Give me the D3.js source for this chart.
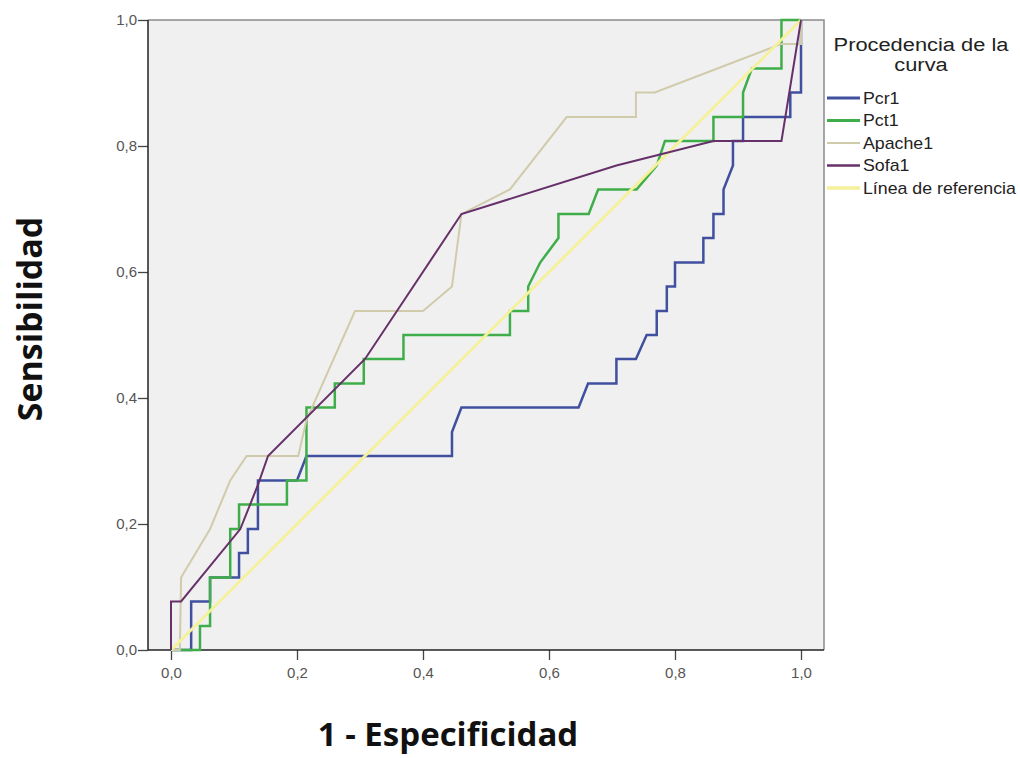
<!DOCTYPE html>
<html>
<head>
<meta charset="utf-8">
<script src="https://cdn.jsdelivr.net/npm/d3@7"></script>
<style>
  body { margin: 0; background: #fff; }
  svg { display: block; font-family: "Liberation Sans", Arial, sans-serif; }
</style>
</head>
<body>
<svg id="rocChart" width="1020" height="758"></svg>
<script>
// Tick values for both axes
var xTicks = [0, 0.2, 0.4, 0.6, 0.8, 1.0];
var yTicks = [0, 0.2, 0.4, 0.6, 0.8, 1.0];

// Legend labels (in drawing order of the legend)
var seriesNames = ["Pcr1", "Pct1", "Apache1", "Sofa1", "Línea de referencia"];

// ROC points as [1 - especificidad, sensibilidad]
var pcr1 = [[0,0],[0.032,0],[0.032,0.077],[0.062,0.077],[0.062,0.115],[0.108,0.115],[0.108,0.154],
  [0.122,0.154],[0.122,0.192],[0.138,0.192],[0.138,0.269],[0.2,0.269],[0.215,0.308],[0.446,0.308],
  [0.446,0.346],[0.461,0.385],[0.647,0.385],[0.662,0.423],[0.707,0.423],[0.707,0.462],[0.738,0.462],
  [0.755,0.5],[0.771,0.5],[0.771,0.538],[0.787,0.538],[0.787,0.577],[0.8,0.577],[0.8,0.615],
  [0.845,0.615],[0.845,0.654],[0.861,0.654],[0.861,0.692],[0.877,0.692],[0.877,0.731],[0.892,0.769],
  [0.892,0.808],[0.908,0.808],[0.908,0.846],[0.983,0.846],[0.983,0.885],[1,0.885],[1,0.962],[1,1]];

var pct1 = [[0,0],[0.046,0],[0.046,0.038],[0.062,0.038],[0.062,0.115],[0.094,0.115],[0.094,0.192],
  [0.108,0.192],[0.108,0.231],[0.184,0.231],[0.184,0.269],[0.215,0.269],[0.215,0.385],[0.26,0.385],
  [0.26,0.423],[0.306,0.423],[0.306,0.462],[0.369,0.462],[0.369,0.5],[0.538,0.5],[0.538,0.538],
  [0.567,0.538],[0.567,0.577],[0.586,0.615],[0.615,0.654],[0.615,0.692],[0.663,0.692],[0.678,0.731],
  [0.739,0.731],[0.771,0.769],[0.784,0.808],[0.861,0.808],[0.861,0.846],[0.908,0.846],[0.908,0.885],
  [0.922,0.923],[0.969,0.923],[0.969,1],[1,1]];

var apache1 = [[0,0],[0.014,0],[0.016,0.115],[0.062,0.192],[0.094,0.269],[0.12,0.308],[0.202,0.308],
  [0.215,0.365],[0.292,0.538],[0.4,0.538],[0.446,0.577],[0.461,0.692],[0.538,0.731],[0.628,0.846],
  [0.738,0.846],[0.738,0.885],[0.768,0.885],[0.969,0.962],[1,0.962],[1,1]];

var sofa1 = [[0,0],[0,0.077],[0.016,0.077],[0.11,0.192],[0.138,0.262],[0.154,0.308],[0.308,0.462],
  [0.461,0.692],[0.707,0.769],[0.861,0.808],[0.969,0.808],[1,1]];

var referencia = [[0,0],[1,1]];

// Series styling (colour, stroke width)
var seriesColors = ["#40509e", "#3fae4a", "#d0cbab", "#66306a", "#f5f19a"];
var seriesWidths = [2.5, 2.5, 2, 2, 3];

// Plot frame
var frame = { left: 148, right: 824, top: 20, bottom: 650 };
var pad = 23; // SPSS leaves a little space left/right of 0 and 1

var svg = d3.select("#rocChart");

var x = d3.scaleLinear()
    .domain([0, 1])
    .range([frame.left + pad, frame.right - pad]);

var y = d3.scaleLinear()
    .domain([0, 1])
    .range([frame.bottom, frame.top]);

var fmt = function(d) { return d3.format(".1f")(d).replace(".", ","); };

// Plot background
svg.append("rect")
    .attr("x", frame.left)
    .attr("y", frame.top)
    .attr("width", frame.right - frame.left)
    .attr("height", frame.bottom - frame.top)
    .attr("fill", "#f0f0f0");

// Top and right frame lines (grey)
svg.append("path")
    .attr("d", "M" + frame.left + "," + frame.top + "H" + frame.right + "V" + frame.bottom)
    .attr("fill", "none")
    .attr("stroke", "#8a8a8a")
    .attr("stroke-width", 1.5);

// Axes
var xAxis = svg.append("g")
    .attr("transform", "translate(0," + frame.bottom + ")")
    .call(d3.axisBottom(x).tickValues(xTicks).tickFormat(fmt).tickSize(10).tickSizeOuter(0));

var yAxis = svg.append("g")
    .attr("transform", "translate(" + frame.left + ",0)")
    .call(d3.axisLeft(y).tickValues(yTicks).tickFormat(fmt).tickSize(10).tickSizeOuter(0));

// axis lines span the whole frame
xAxis.select(".domain").remove();
svg.append("line")
    .attr("x1", frame.left).attr("x2", frame.right)
    .attr("y1", frame.bottom).attr("y2", frame.bottom)
    .attr("stroke", "#222").attr("stroke-width", 1.5);
yAxis.select(".domain").remove();
svg.append("line")
    .attr("x1", frame.left).attr("x2", frame.left)
    .attr("y1", frame.top).attr("y2", frame.bottom)
    .attr("stroke", "#222").attr("stroke-width", 1.5);

svg.selectAll(".tick line").attr("stroke", "#444").attr("stroke-width", 1.3);
svg.selectAll(".tick text")
    .attr("fill", "#555")
    .attr("font-size", "15px")
    .attr("font-family", "'Liberation Sans', Arial, sans-serif");
xAxis.selectAll(".tick text").attr("dy", "1.0em");
yAxis.selectAll(".tick text").attr("x", -11);

// ROC curves
var line = d3.line()
    .x(function(d) { return x(d[0]); })
    .y(function(d) { return y(d[1]); });

var curves = [pcr1, pct1, apache1, referencia, sofa1];
var curveIdx = [0, 1, 2, 4, 3];

svg.append("g")
    .selectAll("path")
    .data(curves)
    .enter().append("path")
    .attr("d", line)
    .attr("fill", "none")
    .attr("stroke", function(d, i) { return seriesColors[curveIdx[i]]; })
    .attr("stroke-width", function(d, i) { return seriesWidths[curveIdx[i]]; })
    .attr("stroke-linejoin", "miter");

// Legend (the original text is a bit wider than Arial, hence the x-stretch)
var legend = svg.append("g");
legend.append("text")
    .attr("text-anchor", "middle")
    .attr("transform", "translate(921,51) scale(1.15,1)")
    .attr("font-size", "19px")
    .attr("fill", "#222")
    .text("Procedencia de la");
legend.append("text")
    .attr("text-anchor", "middle")
    .attr("transform", "translate(921,71) scale(1.15,1)")
    .attr("font-size", "19px")
    .attr("fill", "#222")
    .text("curva");

var legendRow = d3.scaleLinear().domain([0, 4]).range([98, 188]);

var items = svg.append("g")
    .selectAll("g")
    .data(seriesNames)
    .enter().append("g")
    .attr("transform", function(d, i) { return "translate(827," + legendRow(i) + ")"; });

items.append("line")
    .attr("x1", 0).attr("x2", 33)
    .attr("stroke", function(d, i) { return seriesColors[i]; })
    .attr("stroke-width", function(d, i) { return i === 2 ? 2 : seriesWidths[i] + 0.5; });

items.append("text")
    .attr("transform", "translate(36,0) scale(1.11,1)")
    .attr("dy", "0.35em")
    .attr("font-size", "16px")
    .attr("fill", "#222")
    .text(function(d) { return d; });

// Axis titles
svg.append("text")
    .attr("x", 448)
    .attr("y", 746)
    .attr("text-anchor", "middle")
    .attr("font-family", "'Open Sans', sans-serif")
    .attr("font-weight", "bold")
    .attr("font-size", "33px")
    .attr("fill", "#111")
    .text("1 - Especificidad");

svg.append("text")
    .attr("transform", "translate(42,319) rotate(-90)")
    .attr("text-anchor", "middle")
    .attr("font-family", "'Open Sans', sans-serif")
    .attr("font-weight", "bold")
    .attr("font-size", "34px")
    .attr("fill", "#111")
    .text("Sensibilidad");
</script>
</body>
</html>
